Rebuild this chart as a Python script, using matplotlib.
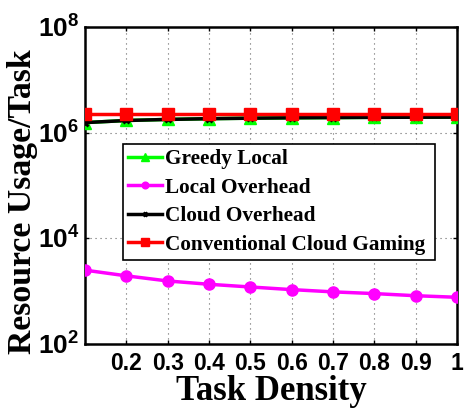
import matplotlib
matplotlib.use("Agg")
import matplotlib.pyplot as plt
from matplotlib.ticker import FixedLocator, NullLocator

density = [0.1, 0.2, 0.3, 0.4, 0.5, 0.6, 0.7, 0.8, 0.9, 1.0]
greedy_local = [1.55e6, 1.70e6, 1.78e6, 1.84e6, 1.88e6, 1.91e6, 1.93e6, 1.95e6, 1.96e6, 1.97e6]
local_overhead = [2500, 1950, 1560, 1350, 1200, 1070, 970, 900, 820, 766]
cloud_overhead = [1.55e6, 1.70e6, 1.78e6, 1.84e6, 1.88e6, 1.91e6, 1.93e6, 1.95e6, 1.96e6, 1.97e6]
conventional = [2.23e6] * 10
xtick_vals = [0.2, 0.3, 0.4, 0.5, 0.6, 0.7, 0.8, 0.9, 1.0]
xtick_labels = ["0.2", "0.3", "0.4", "0.5", "0.6", "0.7", "0.8", "0.9", "1"]
ytick_vals = [1e2, 1e4, 1e6, 1e8]
ytick_labels = [r"$\mathbf{10^{2}}$", r"$\mathbf{10^{4}}$", r"$\mathbf{10^{6}}$", r"$\mathbf{10^{8}}$"]

plt.rcParams['mathtext.fontset'] = 'custom'
plt.rcParams['mathtext.bf'] = 'Liberation Sans:bold'
plt.rcParams['mathtext.rm'] = 'Liberation Sans'

fig = plt.figure(figsize=(4.66, 4.09), dpi=100)
ax = fig.add_axes([85/466, 1-344/409, 372/466, 317/409])

ax.plot(density, greedy_local, color='#00ff00', lw=2.5, marker='^', ms=9, mfc='#00ff00', mec='#00ff00',
        label='Greedy Local', zorder=3)
ax.plot(density, local_overhead, color='#ff00ff', lw=2.5, marker='o', ms=8, mfc='#ff00ff', mec='#ff00ff',
        label='Local Overhead', zorder=3)
ax.plot(density, cloud_overhead, color='black', lw=2.5, marker='x', ms=5, mew=2,
        label='Cloud Overhead', zorder=4)
ax.plot(density, conventional, color='#ff0000', lw=2.5, marker='s', ms=9, mfc='#ff0000', mec='#ff0000',
        label='Conventional Cloud Gaming', zorder=5)

ax.set_yscale('log')
ax.set_xlim(0.1, 1.0)
ax.set_ylim(1e2, 1e8)
ax.xaxis.set_major_locator(FixedLocator(xtick_vals))
ax.set_xticklabels(xtick_labels)
ax.yaxis.set_major_locator(FixedLocator(ytick_vals))
ax.yaxis.set_minor_locator(NullLocator())
ax.set_yticklabels(ytick_labels)
for lab in ax.get_xticklabels():
    lab.set_fontfamily('Liberation Sans')
    lab.set_fontweight('bold')
    lab.set_fontsize(16.5)
for lab in ax.get_yticklabels():
    lab.set_fontsize(19)
ax.tick_params(axis='x', direction='in', length=3, width=1, top=True, pad=6)
ax.tick_params(axis='y', direction='in', length=3, width=1, right=True, pad=4)
ax.grid(True, which='major', linestyle=(0, (1, 3.5)), color='#666666', lw=0.8)
for s in ax.spines.values():
    s.set_linewidth(1.8)

ax.set_xlabel('Task Density', fontfamily='Liberation Serif', fontweight='bold', fontsize=25, labelpad=0)
ax.set_ylabel('Resource Usage/Task', fontfamily='Liberation Serif', fontweight='bold', fontsize=24.3)
ax.yaxis.set_label_coords(-0.127, 0.45)

leg = ax.legend(loc='upper left', bbox_to_anchor=(0.101, 0.271, 0.84, 0.36), mode='expand',
                prop={'family': 'Liberation Serif', 'weight': 'bold', 'size': 15.3},
                markerscale=0.6, handlelength=1.6, handletextpad=0.15, borderpad=0.25,
                labelspacing=0.4, fancybox=False, framealpha=1, edgecolor='black', borderaxespad=0)
leg.get_frame().set_linewidth(1.2)

fig.savefig('out.png', dpi=100)
